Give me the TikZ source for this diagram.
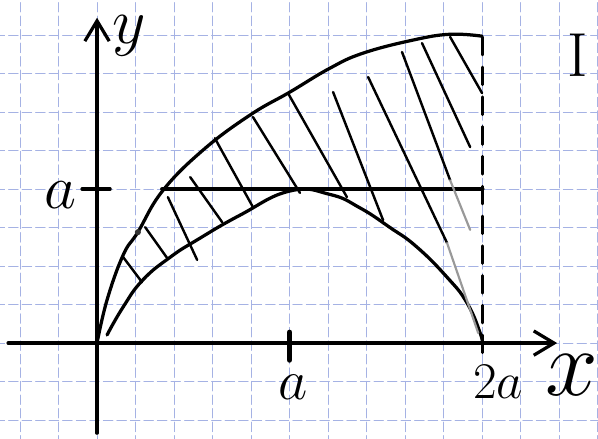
\RequirePackage{fix-cm}
\documentclass[tikz,border=0pt]{standalone}
\usepackage{tikz}
\usetikzlibrary{arrows.meta}
\definecolor{gridblue}{RGB}{165,178,228}
\tikzset{
  every picture/.append style={line cap=round,line join=round},
  sketch grid/.style={gridblue,line width=0.7pt,dash pattern=on 7pt off 3pt},
  sketch axis/.style={line width=2.4pt,-{Straight Barb[length=15pt,width=18pt]}},
  sketch curve/.style={line width=2.4pt},
  sketch level/.style={line width=3.6pt},
  sketch hatch/.style={line width=1.8pt},
  sketch faint/.style={line width=1.6pt,black!40},
  sketch dashed/.style={line width=2.2pt,dash pattern=on 13pt off 9pt},
  sketch label/.style={inner sep=0pt,font=\fontsize{42}{48}\selectfont}
}

\begin{document}
\begin{tikzpicture}
\useasboundingbox (-2.52,-2.47) rectangle (13.01,8.91);
\clip (-2.52,-2.47) rectangle (13.01,8.91);
% squared paper
\draw[sketch grid] (-3,-3) grid (14,9);
% axes
\draw[sketch axis] (-2.31,0) -- (11.95,0);
\draw[sketch axis] (0,-2.34) -- (0,8.45);
\draw[line width=2.4pt] (-0.39,4) -- (0.34,4);
\draw[line width=4pt] (5,0.28) -- (5,-0.44);
% the two boundary curves
\draw[sketch curve] plot[smooth,tension=0.7] coordinates {
  (0,0) (0.26,1.12) (0.68,2.29) (1.06,2.88) (1.7,3.95) (2.75,5.01)
  (3.97,5.92) (5.01,6.52) (6.05,7.14) (6.91,7.53) (8.21,7.87)
  (9.17,8.02) (10,7.97)};
\draw[sketch curve] plot[smooth,tension=0.8] coordinates {
  (0.26,0.21) (0.68,0.94) (1.19,1.64) (1.9,2.23) (2.6,2.68) (3.71,3.32)
  (5.01,3.95) (6.05,3.86) (6.83,3.51) (7.61,3.0) (8.3,2.5)
  (9.09,1.71) (9.61,1.04) (9.95,0.26) (10,0)};
\draw[sketch level] (1.7,4) -- (10,4);
\draw[sketch dashed] (10,-0.25) -- (10,7.97);
\fill[black!80] (1.06,2.88) circle (0.08);
% hatching
\foreach \xa/\ya/\xb/\yb in {
  0.68/2.23/1.17/1.58,
  1.25/3.01/1.82/2.21,
  1.84/3.79/2.60/2.16,
  2.42/4.31/3.25/3.14,
  3.06/5.32/4.05/3.53,
  4.05/5.87/5.27/3.90,
  4.96/6.49/6.49/3.79,
  6.13/6.52/7.43/3.19,
  7.04/6.91/9.09/2.60,
  7.92/7.56/9.17/4.23,
  8.44/7.79/9.69/5.09,
  9.17/7.95/10/6.49
}{
  \draw[sketch hatch] (\xa,\ya) -- (\xb,\yb);
}
\draw[sketch faint] (9.09,2.60) -- (9.9,0.26);
\draw[sketch faint] (9.17,4.23) -- (9.69,2.94);
% labels
\node[sketch label,font=\fontsize{48}{54}\selectfont] (ylab) at (0.83,7.98) {$y$};
\node[sketch label,font=\fontsize{70}{76}\selectfont] (xlab) at (12.33,-0.83) {$x$};
\node[sketch label] (alab) at (5.09,-1.14) {$a$};
\node[sketch label,font=\fontsize{46}{52}\selectfont] (aylab) at (-0.96,3.84) {$a$};
\node[sketch label,font=\fontsize{38}{44}\selectfont] (twoalab) at (10.42,-1.01) {$2a$};
\node[sketch label,font=\fontsize{46}{52}\selectfont] (reglab) at (12.49,7.48) {I};
\end{tikzpicture}
\end{document}
